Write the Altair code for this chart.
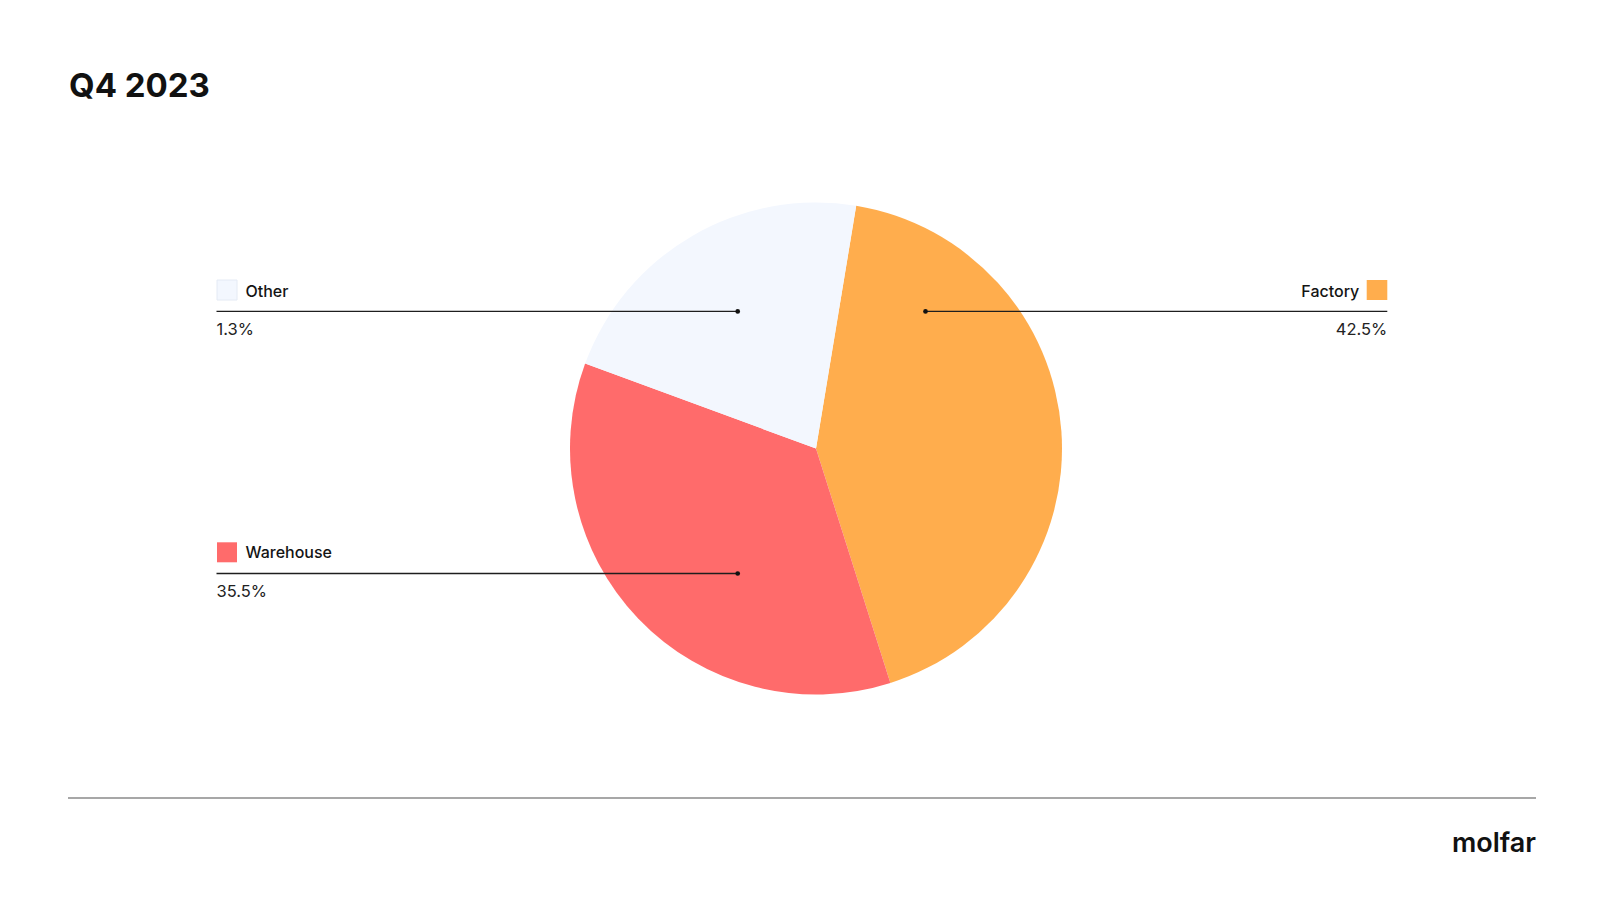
import math
import altair as alt
import pandas as pd

# ---- data ----
categories = ["Factory", "Warehouse", "Other"]
values = [42.5, 35.5, 22.0]          # slice sizes as drawn
pct_labels = ["42.5%", "35.5%", "1.3%"]  # labels as printed
colors = ["#FFAD4D", "#FF6B6B", "#F3F7FE"]
title_text = "Q4 2023"
logo_text = "molfar"

df = pd.DataFrame({
    "category": categories,
    "value": values,
    "label": pct_labels,
    "rank": list(range(len(categories))),
})

# ---- layout (chart pixel coordinates) ----
W, H = 1584, 880
CX, CY, R = 808, 440.5, 246
START = math.radians(9.4)
FONT = "Inter"

pie = alt.Chart(df).mark_arc(outerRadius=R).encode(
    theta=alt.Theta("value:Q", stack=True,
                    scale=alt.Scale(range=[START, START + 2 * math.pi])),
    color=alt.Color("category:N",
                    scale=alt.Scale(domain=categories, range=colors),
                    legend=None),
    order=alt.Order("rank:Q"),
    x=alt.value(CX),
    y=alt.value(CY),
)

# annotation layout per category
ann = {
    "Factory": dict(side="right", sq=(1358.7, 1379.3, 272, 292), name_x=1351.3,
                    name_y=288.7, line=(917.5, 1379.3, 303.4), pct_x=1379.3, pct_y=326.5,
                    dot_x=917.5),
    "Other": dict(side="left", sq=(209, 229, 272, 292), name_x=237.5,
                  name_y=288.7, line=(208.5, 729.7, 303.4), pct_x=208.5, pct_y=326.5,
                  dot_x=729.7),
    "Warehouse": dict(side="left", sq=(209, 229, 534.3, 554.3), name_x=237.5,
                      name_y=550.3, line=(208.5, 729.7, 565.5), pct_x=208.5, pct_y=588.6,
                      dot_x=729.7),
}

layers = [pie]
for cat, color in zip(categories, colors):
    a = ann[cat]
    base = alt.Chart(df).transform_filter(alt.datum.category == cat)
    x0, x1, y0, y1 = a["sq"]
    sq_kwargs = dict(color=color)
    if cat == "Other":
        sq_kwargs.update(stroke="#E4EAF4", strokeWidth=1)
    layers.append(base.mark_rect(**sq_kwargs).encode(
        x=alt.value(x0), x2=alt.value(x1), y=alt.value(y0), y2=alt.value(y1)))
    align = "left" if a["side"] == "left" else "right"
    layers.append(base.mark_text(align=align, baseline="alphabetic", fontSize=16,
                                 fontWeight=500, font=FONT, color="#141414").encode(
        x=alt.value(a["name_x"]), y=alt.value(a["name_y"]), text="category:N"))
    lx0, lx1, ly = a["line"]
    layers.append(base.mark_rule(color="#1e1e1e", strokeWidth=1.3).encode(
        x=alt.value(lx0), x2=alt.value(lx1), y=alt.value(ly)))
    layers.append(base.mark_circle(color="#111111", opacity=1, size=22).encode(
        x=alt.value(a["dot_x"]), y=alt.value(ly)))
    layers.append(base.mark_text(align=align, baseline="alphabetic", fontSize=16.5,
                                 fontWeight=400, font=FONT, color="#222222").encode(
        x=alt.value(a["pct_x"]), y=alt.value(a["pct_y"]), text="label:N"))

title_df = pd.DataFrame({"t": [title_text]})
layers.append(alt.Chart(title_df).mark_text(
    align="left", baseline="alphabetic", fontSize=33, fontWeight="bold",
    font=FONT, color="#111111").encode(
    x=alt.value(61), y=alt.value(89), text="t:N"))

logo_df = pd.DataFrame({"t": [logo_text]})
layers.append(alt.Chart(logo_df).mark_text(
    align="right", baseline="alphabetic", fontSize=27, fontWeight=600,
    font=FONT, color="#111111").encode(
    x=alt.value(1528), y=alt.value(843.7), text="t:N"))

layers.append(alt.Chart(logo_df).mark_rule(color="#8a8a8a", strokeWidth=1.5).encode(
    x=alt.value(60), x2=alt.value(1528), y=alt.value(790)))

chart = alt.layer(*layers).properties(
    width=W, height=H, padding=0, autosize="none"
).configure_view(stroke=None)

chart.save("out.html", embed_options={"renderer": "svg", "actions": False})
